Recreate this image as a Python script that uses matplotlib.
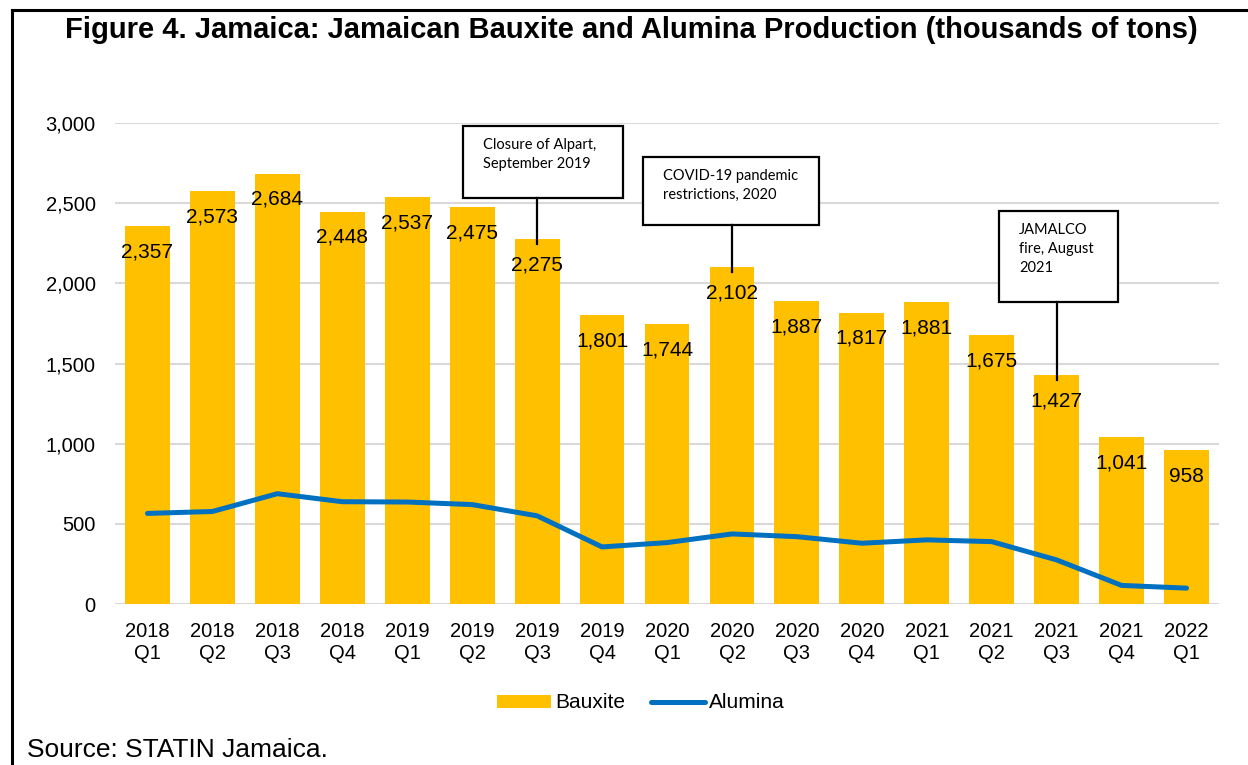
import matplotlib
matplotlib.use("Agg")
import matplotlib.pyplot as plt
from matplotlib.lines import Line2D
from matplotlib.patches import Rectangle

# data (thousands of tons)
quarters = ["2018\nQ1", "2018\nQ2", "2018\nQ3", "2018\nQ4",
            "2019\nQ1", "2019\nQ2", "2019\nQ3", "2019\nQ4",
            "2020\nQ1", "2020\nQ2", "2020\nQ3", "2020\nQ4",
            "2021\nQ1", "2021\nQ2", "2021\nQ3", "2021\nQ4",
            "2022\nQ1"]
bauxite = [2357, 2573, 2684, 2448, 2537, 2475, 2275, 1801, 1744,
           2102, 1887, 1817, 1881, 1675, 1427, 1041, 958]
alumina = [565, 577, 688, 638, 636, 620, 550, 356, 383,
           437, 420, 379, 400, 389, 275, 116, 99]

# annotations: (bar index, text, box x0, x1, y0, y1 in data units)
notes = [
    (6, "Closure of Alpart,\nSeptember 2019", 4.86, 7.32, 2533, 2982),
    (9, "COVID-19 pandemic\nrestrictions, 2020", 7.63, 10.34, 2364, 2789),
    (14, "JAMALCO\nfire, August\n2021", 13.11, 14.94, 1884, 2452),
]

plt.rcParams['font.family'] = ['Liberation Sans', 'DejaVu Sans']

W, H = 1248, 765
fig = plt.figure(figsize=(W / 100, H / 100), dpi=100)
ax = fig.add_axes([115 / W, 1 - 604 / H, 1104 / W, 481 / H])

x = list(range(len(quarters)))
bars = ax.bar(x, bauxite, width=0.69, color="#FFC000", label="Bauxite", zorder=2)
line, = ax.plot(x, alumina, color="#0070C0", lw=3.6, solid_capstyle="round",
                label="Alumina", zorder=3)

for i, v in enumerate(bauxite):
    ax.annotate(f"{v:,}", (i, v), xytext=(0, -18.5), textcoords="offset points",
                ha="center", va="center", fontsize=15, zorder=4)

# callout boxes
for idx, txt, x0, x1, y0, y1 in notes:
    ax.add_patch(Rectangle((x0, y0), x1 - x0, y1 - y0, facecolor="white",
                           edgecolor="black", lw=1.6, zorder=5))
    ax.plot([idx, idx], [y0, bauxite[idx] - 30], color="black", lw=1.6, zorder=5)
    ax.text(x0 + 0.31, y1 - 75, txt, ha="left", va="top", fontsize=10.5,
            family=["Lato", "DejaVu Sans"], linespacing=1.45, zorder=6)

ax.set_xlim(-0.5, len(quarters) - 0.5)
ax.set_ylim(0, 3000)
ax.set_yticks(range(0, 3001, 500))
ax.set_yticklabels([f"{t:,}" for t in range(0, 3001, 500)])
ax.set_xticks(x)
ax.set_xticklabels(quarters)
ax.tick_params(axis="both", length=0, labelsize=14.5)
ax.tick_params(axis="x", pad=13)
ax.tick_params(axis="y", pad=14)
ax.grid(axis="y", color="#D9D9D9", lw=1.5, zorder=0)
ax.set_axisbelow(True)
for s in ax.spines.values():
    s.set_visible(False)

fig.legend(handles=[bars, line], labels=["Bauxite", "Alumina"], loc="center",
           bbox_to_anchor=(641 / W, 1 - 703 / H), ncol=2,
           frameon=False, fontsize=15, handlelength=2.6, handleheight=0.6,
           handletextpad=0.2, columnspacing=1.2)

fig.text(631 / W, 1 - 30 / H,
         "Figure 4. Jamaica: Jamaican Bauxite and Alumina Production (thousands of tons)",
         ha="center", va="center", fontsize=21, fontweight="bold")
fig.text(27 / W, 1 - 750 / H, "Source: STATIN Jamaica.", ha="left",
         va="center", fontsize=19)

# outer frame (top and left edges visible)
fig.add_artist(Line2D([12 / W, 1], [1 - 10 / H, 1 - 10 / H], color="black", lw=2.2))
fig.add_artist(Line2D([12 / W, 12 / W], [0, 1 - 10 / H], color="black", lw=2.2))

fig.savefig("out.png", dpi=100)
